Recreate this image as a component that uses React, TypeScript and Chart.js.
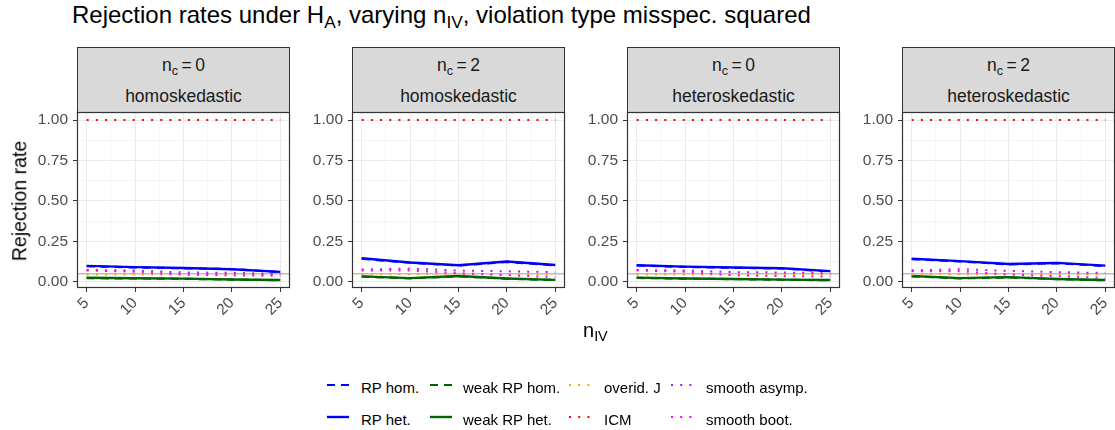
import React, { useEffect, useRef } from 'react';
import { Chart, registerables } from 'chart.js';

Chart.register(...registerables);

const FONT = '"Liberation Sans", Arial, Helvetica, sans-serif';
Chart.defaults.font.family = FONT;

// ---------------- data ----------------
const N_IV = [5, 10, 15, 20, 25];
const X_TICKS = [5, 10, 15, 20, 25];
const Y_TICKS = [0, 0.25, 0.5, 0.75, 1.0];
const NOMINAL_LEVEL = 0.05;

const PANEL_NC = ['0', '2', '0', '2'];
const PANEL_VARIANCE = ['homoskedastic', 'homoskedastic', 'heteroskedastic', 'heteroskedastic'];

const RP_HOM = [
  [0.097, 0.089, 0.084, 0.079, 0.060],
  [0.143, 0.118, 0.101, 0.123, 0.102],
  [0.101, 0.092, 0.087, 0.083, 0.064],
  [0.141, 0.126, 0.108, 0.115, 0.098],
];
const RP_HET = [
  [0.099, 0.091, 0.086, 0.078, 0.062],
  [0.146, 0.120, 0.103, 0.126, 0.104],
  [0.103, 0.094, 0.089, 0.084, 0.066],
  [0.143, 0.128, 0.110, 0.117, 0.100],
];
const WEAK_RP_HOM = [
  [0.023, 0.021, 0.019, 0.014, 0.010],
  [0.032, 0.022, 0.034, 0.019, 0.011],
  [0.024, 0.020, 0.017, 0.013, 0.010],
  [0.034, 0.022, 0.027, 0.017, 0.010],
];
const WEAK_RP_HET = [
  [0.025, 0.022, 0.020, 0.015, 0.011],
  [0.034, 0.023, 0.036, 0.021, 0.012],
  [0.026, 0.021, 0.018, 0.014, 0.011],
  [0.036, 0.023, 0.029, 0.018, 0.011],
];
const OVERID_J = [
  [0.045, 0.046, 0.045, 0.046, 0.045],
  [0.047, 0.047, 0.048, 0.047, 0.046],
  [0.045, 0.045, 0.046, 0.045, 0.045],
  [0.046, 0.047, 0.047, 0.046, 0.046],
];
const ICM = [
  [1.0, 1.0, 1.0, 1.0, 1.0],
  [1.0, 1.0, 1.0, 1.0, 1.0],
  [1.0, 1.0, 1.0, 1.0, 1.0],
  [1.0, 1.0, 1.0, 1.0, 1.0],
];
const SMOOTH_ASYMP = [
  [0.074, 0.070, 0.058, 0.056, 0.048],
  [0.076, 0.082, 0.070, 0.065, 0.060],
  [0.074, 0.070, 0.060, 0.058, 0.053],
  [0.071, 0.078, 0.068, 0.060, 0.055],
];
const SMOOTH_BOOT = [
  [0.070, 0.062, 0.045, 0.040, 0.037],
  [0.070, 0.070, 0.054, 0.041, 0.029],
  [0.070, 0.062, 0.040, 0.035, 0.033],
  [0.066, 0.066, 0.045, 0.035, 0.025],
];

// ---------------- styles / layout ----------------
const X_MIN = 4;
const X_MAX = 26;
const Y_MIN = -0.038;
const Y_MAX = 1.05;

const PANEL_LEFT = [77, 352, 627, 902];
const PANEL_W = 213;
const PANEL_TOP = 112;
const PANEL_H = 176;
const STRIP_TOP = 47;
const PAD = 24;
const Y_AXIS_W = 60;
const X_AXIS_H = 40;

const DASH = [8, 6];
const DOT = [2, 7.2];

const SERIES = [
  { key: 'RP hom.', values: RP_HOM, color: '#0000FF', dash: DASH, width: 2.2 },
  { key: 'RP het.', values: RP_HET, color: '#0000FF', dash: [], width: 2.4 },
  { key: 'weak RP hom.', values: WEAK_RP_HOM, color: '#006400', dash: DASH, width: 2.2 },
  { key: 'weak RP het.', values: WEAK_RP_HET, color: '#006400', dash: [], width: 2.4 },
  { key: 'overid. J', values: OVERID_J, color: '#FFA500', dash: DOT, width: 2 },
  { key: 'ICM', values: ICM, color: '#FF0000', dash: DOT, width: 2 },
  { key: 'smooth asymp.', values: SMOOTH_ASYMP, color: '#A020F0', dash: DOT, width: 2 },
  { key: 'smooth boot.', values: SMOOTH_BOOT, color: '#FF00FF', dash: DOT, width: 2 },
];

const LEGEND_ORDER = [
  ['RP hom.', 'weak RP hom.', 'overid. J', 'smooth asymp.'],
  ['RP het.', 'weak RP het.', 'ICM', 'smooth boot.'],
];
const LEGEND_SAMPLE_X = [327, 430, 569, 671];
const LEGEND_TEXT_X = [361, 463, 604, 706];
const LEGEND_ROW_Y = [385, 417];

const isMajorX = (v: number) => Math.abs(v / 5 - Math.round(v / 5)) < 1e-6;
const isMajorY = (v: number) => Math.abs(v / 0.25 - Math.round(v / 0.25)) < 1e-6;

const panelBorder = {
  id: 'panelBorder',
  afterDraw(chart: any) {
    const { ctx, chartArea } = chart;
    const { left, top, right, bottom } = chartArea;
    ctx.save();
    ctx.strokeStyle = '#333333';
    ctx.lineWidth = 1.2;
    ctx.strokeRect(left + 0.5, top + 0.5, right - left - 1, bottom - top - 1);
    ctx.restore();
  },
};

function Panel({ idx }: { idx: number }) {
  const ref = useRef<HTMLCanvasElement | null>(null);
  useEffect(() => {
    if (!ref.current) return;
    const mk = (vals: number[]) => N_IV.map((x, i) => ({ x, y: vals[i] }));
    const n = SERIES.length;
    const datasets: any[] = SERIES.map((s, i) => ({
      label: s.key,
      data: mk(s.values[idx]),
      borderColor: s.color,
      backgroundColor: s.color,
      borderDash: s.dash,
      borderWidth: s.width,
      order: n - i,
      pointRadius: 0,
      fill: false,
    }));
    datasets.push({
      label: 'nominal',
      data: [
        { x: X_MIN, y: NOMINAL_LEVEL },
        { x: X_MAX, y: NOMINAL_LEVEL },
      ],
      borderColor: '#BDBDBD',
      borderWidth: 1.3,
      order: n + 5,
      pointRadius: 0,
      fill: false,
    });

    const xTicksAll: number[] = [];
    for (let v = X_TICKS[0]; v <= X_TICKS[X_TICKS.length - 1] + 1e-9; v += 2.5) xTicksAll.push(v);
    const yTicksAll: number[] = [];
    for (let v = Y_TICKS[0]; v <= Y_TICKS[Y_TICKS.length - 1] + 1e-9; v += 0.125) yTicksAll.push(v);

    const chart = new Chart(ref.current, {
      type: 'line',
      data: { datasets },
      plugins: [panelBorder],
      options: {
        animation: false,
        responsive: false,
        events: [],
        layout: { padding: { left: PAD, right: PAD, top: PAD, bottom: PAD } },
        plugins: { legend: { display: false }, tooltip: { enabled: false } },
        elements: { line: { tension: 0, borderCapStyle: 'butt', borderJoinStyle: 'round' }, point: { radius: 0 } },
        scales: {
          x: {
            type: 'linear',
            min: X_MIN,
            max: X_MAX,
            afterBuildTicks: (s: any) => {
              s.ticks = xTicksAll.map((v) => ({ value: v }));
            },
            afterFit: (s: any) => {
              s.height = X_AXIS_H;
            },
            border: { display: false },
            grid: {
              color: '#EBEBEB',
              lineWidth: (c: any) => (isMajorX(c.tick.value) ? 1 : 0.5),
              tickColor: (c: any) => (isMajorX(c.tick.value) ? '#333333' : 'rgba(0,0,0,0)'),
              tickWidth: 1,
              tickLength: 4,
            },
            ticks: {
              autoSkip: false,
              minRotation: 45,
              maxRotation: 45,
              padding: 2,
              color: '#4D4D4D',
              font: { size: 15.5, family: FONT },
              callback: (v: any) => (isMajorX(Number(v)) ? String(v) : ''),
            },
          },
          y: {
            type: 'linear',
            min: Y_MIN,
            max: Y_MAX,
            afterBuildTicks: (s: any) => {
              s.ticks = yTicksAll.map((v) => ({ value: v }));
            },
            afterFit: (s: any) => {
              s.width = Y_AXIS_W;
            },
            border: { display: false },
            grid: {
              color: '#EBEBEB',
              lineWidth: (c: any) => (isMajorY(c.tick.value) ? 1 : 0.5),
              tickColor: (c: any) => (isMajorY(c.tick.value) ? '#333333' : 'rgba(0,0,0,0)'),
              tickWidth: 1,
              tickLength: 4,
            },
            ticks: {
              autoSkip: false,
              padding: 5,
              color: '#4D4D4D',
              font: { size: 15.5, family: FONT },
              callback: (v: any) => (isMajorY(Number(v)) ? Number(v).toFixed(2) : ''),
            },
          },
        },
      } as any,
    });
    return () => chart.destroy();
  }, [idx]);

  const w = PAD + Y_AXIS_W + PANEL_W + PAD;
  const h = PAD + PANEL_H + X_AXIS_H + PAD;
  return (
    <canvas
      ref={ref}
      width={w}
      height={h}
      style={{
        position: 'absolute',
        left: PANEL_LEFT[idx] - Y_AXIS_W - PAD,
        top: PANEL_TOP - PAD,
        width: w,
        height: h,
      }}
    />
  );
}

const sub = (t: string) => (
  <span style={{ fontSize: '0.72em', verticalAlign: '-0.28em' }}>{t}</span>
);

function Strip({ idx }: { idx: number }) {
  return (
    <div
      style={{
        position: 'absolute',
        left: PANEL_LEFT[idx],
        top: STRIP_TOP,
        width: PANEL_W,
        height: PANEL_TOP - STRIP_TOP + 1,
        boxSizing: 'border-box',
        background: '#D9D9D9',
        border: '1.2px solid #333333',
        color: '#1A1A1A',
        fontFamily: FONT,
        fontSize: 17.5,
      }}
    >
      <div style={{ position: 'absolute', left: 0, right: 0, top: 9, textAlign: 'center', lineHeight: 1, whiteSpace: 'nowrap' }}>
        n{sub('c')}{'\u2009=\u2009' + PANEL_NC[idx]}
      </div>
      <div style={{ position: 'absolute', left: 0, right: 0, top: 40, textAlign: 'center', lineHeight: 1, whiteSpace: 'nowrap' }}>
        {PANEL_VARIANCE[idx]}
      </div>
    </div>
  );
}

function LegendSample({ s, x, y }: { s: any; x: number; y: number }) {
  return (
    <svg style={{ position: 'absolute', left: x, top: y - 4 }} width={24} height={8}>
      <line
        x1={0}
        y1={4}
        x2={22}
        y2={4}
        stroke={s.color}
        strokeWidth={s.width}
        strokeDasharray={s.dash.length ? s.dash.join(' ') : undefined}
      />
    </svg>
  );
}

export default function App() {
  const find = (k: string) => SERIES.find((s) => s.key === k)!;
  return (
    <div
      style={{
        position: 'fixed',
        left: 0,
        top: 0,
        width: 1115,
        height: 430,
        background: '#FFFFFF',
        fontFamily: FONT,
        overflow: 'hidden',
      }}
    >
      <div style={{ position: 'absolute', left: 72, top: 3, fontSize: 24, lineHeight: 1, color: '#000', whiteSpace: 'nowrap' }}>
        Rejection rates under H{sub('A')}, varying n{sub('IV')}, violation type misspec. squared
      </div>
      {[0, 1, 2, 3].map((i) => (
        <Strip key={'s' + i} idx={i} />
      ))}
      {[0, 1, 2, 3].map((i) => (
        <Panel key={'p' + i} idx={i} />
      ))}
      <div
        style={{
          position: 'absolute',
          left: 20,
          top: 201,
          transform: 'translate(-50%, -50%) rotate(-90deg)',
          fontSize: 19.5,
          lineHeight: 1,
          color: '#000',
          whiteSpace: 'nowrap',
        }}
      >
        Rejection rate
      </div>
      <div style={{ position: 'absolute', left: 583, top: 320, fontSize: 20, lineHeight: 1, color: '#000', whiteSpace: 'nowrap' }}>
        n{sub('IV')}
      </div>
      {LEGEND_ORDER.map((row, r) =>
        row.map((k, c) => (
          <React.Fragment key={k}>
            <LegendSample s={find(k)} x={LEGEND_SAMPLE_X[c]} y={LEGEND_ROW_Y[r]} />
            <div
              style={{
                position: 'absolute',
                left: LEGEND_TEXT_X[c],
                top: LEGEND_ROW_Y[r] - 5,
                fontSize: 15,
                lineHeight: 1,
                color: '#000',
                whiteSpace: 'nowrap',
              }}
            >
              {k}
            </div>
          </React.Fragment>
        ))
      )}
    </div>
  );
}
